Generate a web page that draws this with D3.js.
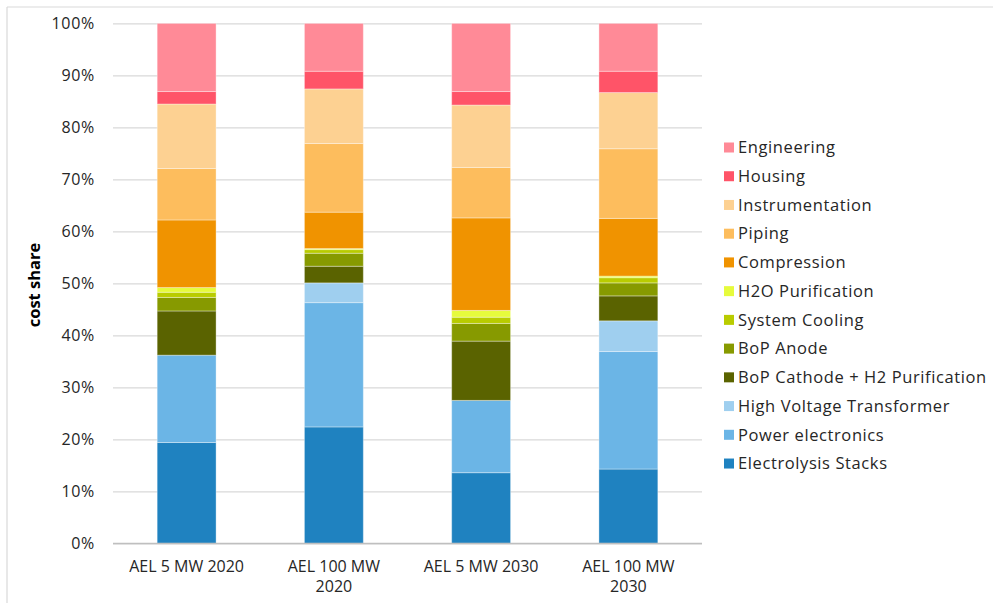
<!DOCTYPE html>
<html>
<head>
<meta charset="utf-8">
<script src="https://cdn.jsdelivr.net/npm/d3@7/dist/d3.min.js"></script>
<style>
  html, body { margin: 0; padding: 0; background: #fff; }
  svg { display: block; font-family: "Open Sans", "Noto Sans", sans-serif; }
</style>
</head>
<body>
<svg id="chart" width="993" height="603"></svg>
<script>
// Scenario columns (label lines)
const scenarios = ["AEL 5 MW 2020", "AEL 100 MW 2020", "AEL 5 MW 2030", "AEL 100 MW 2030"];
const scenarioLines = [["AEL 5 MW 2020"], ["AEL 100 MW", "2020"], ["AEL 5 MW 2030"], ["AEL 100 MW", "2030"]];

// Cost components, stacked from bottom to top
const components = [
  "Electrolysis Stacks", "Power electronics", "High Voltage Transformer",
  "BoP Cathode + H2 Purification", "BoP Anode", "System Cooling", "H2O Purification",
  "Compression", "Piping", "Instrumentation", "Housing", "Engineering"
];
const componentColors = [
  "#1f82c0", "#6bb5e6", "#9fcfef",
  "#5a6300", "#879a00", "#b9cc00", "#e6fb3c",
  "#f09300", "#fdbd5d", "#fdd192", "#ff5468", "#ff8a97"
];

// Cost share in percent, one array per component (order of scenarios)
const electrolysisStacks   = [19.4, 22.4, 13.6, 14.3];
const powerElectronics     = [16.8, 23.9, 13.9, 22.6];
const hvTransformer        = [0.0, 3.8, 0.0, 5.9];
const bopCathode           = [8.5, 3.2, 11.4, 4.8];
const bopAnode             = [2.6, 2.5, 3.4, 2.5];
const systemCooling        = [1.0, 0.7, 1.2, 1.0];
const h2oPurification      = [0.9, 0.2, 1.3, 0.3];
const compression          = [13.0, 7.0, 17.8, 11.1];
const piping               = [9.9, 13.2, 9.7, 13.4];
const instrumentation      = [12.4, 10.5, 12.0, 10.8];
const housing              = [2.4, 3.4, 2.6, 4.1];
const engineering          = [13.1, 9.2, 13.1, 9.2];

const yTicks = [0, 10, 20, 30, 40, 50, 60, 70, 80, 90, 100];

const seriesValues = [
  electrolysisStacks, powerElectronics, hvTransformer, bopCathode, bopAnode,
  systemCooling, h2oPurification, compression, piping, instrumentation, housing, engineering
];

// Build rows for d3.stack
const rows = scenarios.map((s, i) => {
  const r = { scenario: s };
  components.forEach((c, k) => { r[c] = seriesValues[k][i]; });
  return r;
});

const svg = d3.select("#chart");
const W = 993, H = 603;
const plot = { left: 113, right: 702, top: 23.4, bottom: 543.4 };

// Outer frame (top and left edges)
svg.append("line").attr("x1", 7).attr("x2", W).attr("y1", 7).attr("y2", 7)
  .attr("stroke", "#d9d9d9").attr("stroke-width", 1.2);
svg.append("line").attr("x1", 7).attr("x2", 7).attr("y1", 7).attr("y2", H)
  .attr("stroke", "#d9d9d9").attr("stroke-width", 1.2);

const x = d3.scaleBand().domain(scenarios)
  .range([plot.left, plot.right]).paddingInner(0.6).paddingOuter(0.3);
const y = d3.scaleLinear().domain([0, 100]).range([plot.bottom, plot.top]);

// Gridlines and y-axis
const yAxis = d3.axisLeft(y).tickValues(yTicks).tickFormat(d => d + "%")
  .tickSize(-(plot.right - plot.left)).tickPadding(18);
const gy = svg.append("g").attr("transform", `translate(${plot.left},0)`).call(yAxis);
gy.select(".domain").remove();
gy.selectAll(".tick line").attr("stroke", "#d9d9d9").attr("stroke-width", 1.3);
gy.selectAll(".tick text").attr("fill", "#262626").attr("font-size", 16)
  .attr("letter-spacing", 0.7).attr("font-family", "'Open Sans', sans-serif");

// Stacked bars
const stack = d3.stack().keys(components);
const layers = stack(rows);
const color = d3.scaleOrdinal().domain(components).range(componentColors);

svg.append("g").selectAll("g").data(layers).join("g")
  .attr("fill", d => color(d.key))
  .selectAll("rect").data(d => d.filter(p => p[1] - p[0] > 0)).join("rect")
  .attr("x", d => x(d.data.scenario))
  .attr("width", x.bandwidth())
  .attr("y", d => y(d[1]))
  .attr("height", d => y(d[0]) - y(d[1]))
  .attr("stroke", "#ffffff").attr("stroke-opacity", 0.35).attr("stroke-width", 1);

// Baseline
svg.append("line").attr("x1", plot.left).attr("x2", plot.right)
  .attr("y1", y(0)).attr("y2", y(0)).attr("stroke", "#bfbfbf").attr("stroke-width", 1.5);

// Category labels
const xl = svg.append("g");
scenarios.forEach((s, i) => {
  const t = xl.append("text").attr("x", x(s) + x.bandwidth() / 2).attr("y", 572)
    .attr("text-anchor", "middle").attr("font-size", 16).attr("fill", "#262626")
    .attr("letter-spacing", 0);
  scenarioLines[i].forEach((line, j) => {
    t.append("tspan").attr("x", x(s) + x.bandwidth() / 2).attr("dy", j === 0 ? 0 : 20).text(line);
  });
});

// Y-axis title
svg.append("text").attr("transform", "translate(40,285) rotate(-90)")
  .attr("text-anchor", "middle").attr("font-size", 16.5).attr("font-weight", "bold")
  .attr("fill", "#000").text("cost share");

// Legend, top entry is the top of the stack
const legendItems = components.slice().reverse();
const lg = svg.append("g").attr("transform", "translate(724,147.5)");
legendItems.forEach((c, i) => {
  const g = lg.append("g").attr("transform", `translate(0,${i * 28.73})`);
  g.append("rect").attr("x", 0).attr("y", -5).attr("width", 10).attr("height", 10).attr("fill", color(c));
  g.append("text").attr("x", 14).attr("y", 0).attr("dy", "0.35em")
    .attr("font-size", 16.5).attr("fill", "#262626").attr("letter-spacing", 0.6).text(c);
});
</script>
</body>
</html>
